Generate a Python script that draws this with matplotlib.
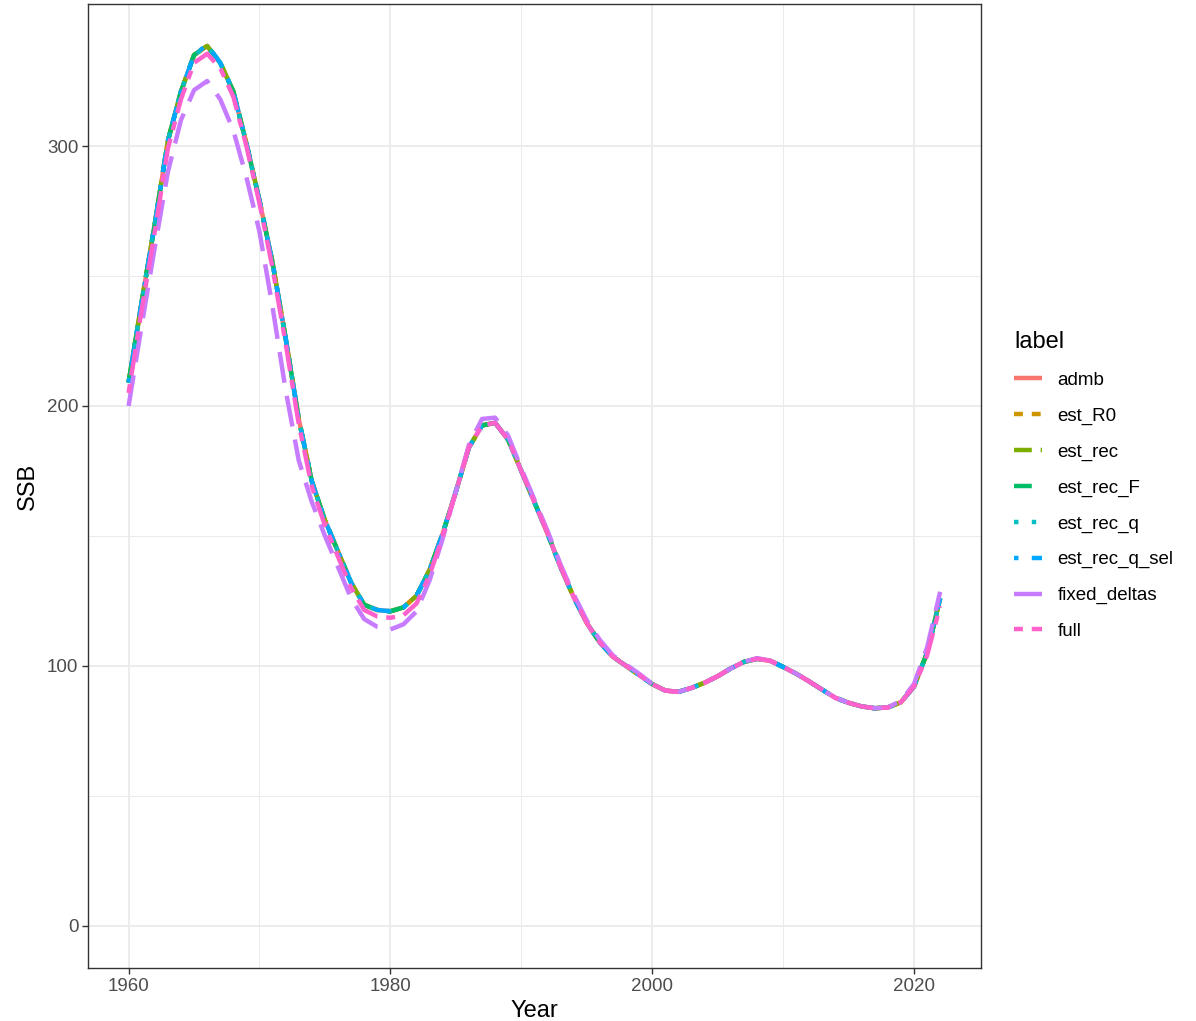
import numpy as np
import matplotlib.pyplot as plt
from matplotlib.lines import Line2D

plt.rcParams['font.family'] = ['Liberation Sans', 'DejaVu Sans']

# Data
years = list(range(1960, 2023))

admb = [209, 240, 270, 302, 321, 335, 338.5, 332, 321, 301,
        279, 255, 226, 195, 171, 156, 144, 132, 123.5, 121.5,
        121, 122.5, 127, 137, 151, 167, 184, 192.5, 193.5, 187,
        175, 163, 151, 138, 126.5, 116.5, 109, 103.5, 100, 96.5,
        93, 90.5, 90, 91.5, 93.5, 96, 99, 101.5, 102.7, 102,
        99.6, 97, 94, 90.8, 87.7, 85.8, 84.4, 83.7, 84, 86,
        92, 105, 126]

est_R0 = list(admb)
est_rec = list(admb)
est_rec_F = list(admb)
est_rec_q = list(admb)
est_rec_q_sel = list(admb)
est_rec_q_sel[6] = 339

fixed_deltas = [200, 231, 261, 290, 310, 321.5, 325, 318, 306, 288,
                267, 238, 206, 179, 163, 150, 138, 126, 118, 115,
                114, 116, 121, 133, 149, 167, 185, 195, 195.5, 188.5,
                176, 164, 152, 139, 127.5, 117.5, 110, 104, 100.5, 97,
                93, 90.5, 90, 91.5, 93.5, 96, 99, 101.5, 103, 102,
                99.6, 97, 94, 90.8, 87.7, 85.8, 84.4, 83.7, 84, 86.5,
                93, 107, 128.5]

full = [205, 237, 267, 299, 318, 332, 335.5, 330, 319, 300,
        278, 253, 224, 193, 169, 154, 142, 130, 121.5, 119,
        118.5, 119.5, 124, 135, 150, 167, 184, 192.5, 193.5, 187,
        175, 163, 151, 138, 126.5, 116.5, 109, 103.5, 100, 96.5,
        93, 90.5, 90, 91.5, 93.5, 96, 99, 101.5, 102.7, 102,
        99.6, 97, 94, 90.8, 87.7, 85.8, 84.4, 83.7, 84, 86,
        92, 104, 123]

labels = ['admb', 'est_R0', 'est_rec', 'est_rec_F', 'est_rec_q',
          'est_rec_q_sel', 'fixed_deltas', 'full']
series = [admb, est_R0, est_rec, est_rec_F, est_rec_q,
          est_rec_q_sel, fixed_deltas, full]
colors = ['#F8766D', '#CD9600', '#7CAE00', '#00BE67', '#00BFC4',
          '#00A9FF', '#C77CFF', '#FF61CC']
# ggplot default linetypes: solid, 22, 42, 44, 13, 1343, 73, 2262
dashes = [None, (2, 2), (4, 2), (4, 4), (1, 3), (1, 3, 4, 3), (7, 3), (2, 2, 6, 2)]

fig = plt.figure(figsize=(11.96, 10.21), dpi=100)
ax = fig.add_axes([0.0736, 0.052, 0.7464, 0.944])

lw = 3.2
handles = []
for lab, vals, col, d in zip(labels, series, colors, dashes):
    ln, = ax.plot(years, vals, color=col, lw=lw, label=lab,
                  solid_capstyle='butt', dash_capstyle='butt')
    if d is not None:
        ln.set_dashes(d)
    handles.append(ln)

ax.set_xlim(1956.9, 2025.1)
ax.set_ylim(-16.2, 354.6)
ax.set_xticks([1960, 1980, 2000, 2020])
ax.set_yticks([0, 100, 200, 300])
ax.set_xticks([1970, 1990, 2010], minor=True)
ax.set_yticks([50, 150, 250], minor=True)
ax.grid(which='major', color='#EBEBEB', lw=1.3)
ax.grid(which='minor', color='#EBEBEB', lw=0.7)
ax.set_axisbelow(True)
for s in ax.spines.values():
    s.set_color('#333333')
    s.set_linewidth(1.0)
ax.tick_params(which='major', length=4, width=1, color='#333333',
               labelcolor='#4D4D4D', labelsize=13.5, pad=3)
ax.tick_params(which='minor', length=0)

ax.set_xlabel('Year', fontsize=17, labelpad=4)
ax.set_ylabel('SSB', fontsize=17, labelpad=6)

leg = fig.legend(handles=handles, loc='upper left',
                 bbox_to_anchor=(0.834, 0.692), frameon=False,
                 title='label', title_fontsize=17, fontsize=13.5,
                 handlelength=1.5, handletextpad=0.8, labelspacing=0.99,
                 alignment='left')

fig.savefig('out.png', dpi=100)
